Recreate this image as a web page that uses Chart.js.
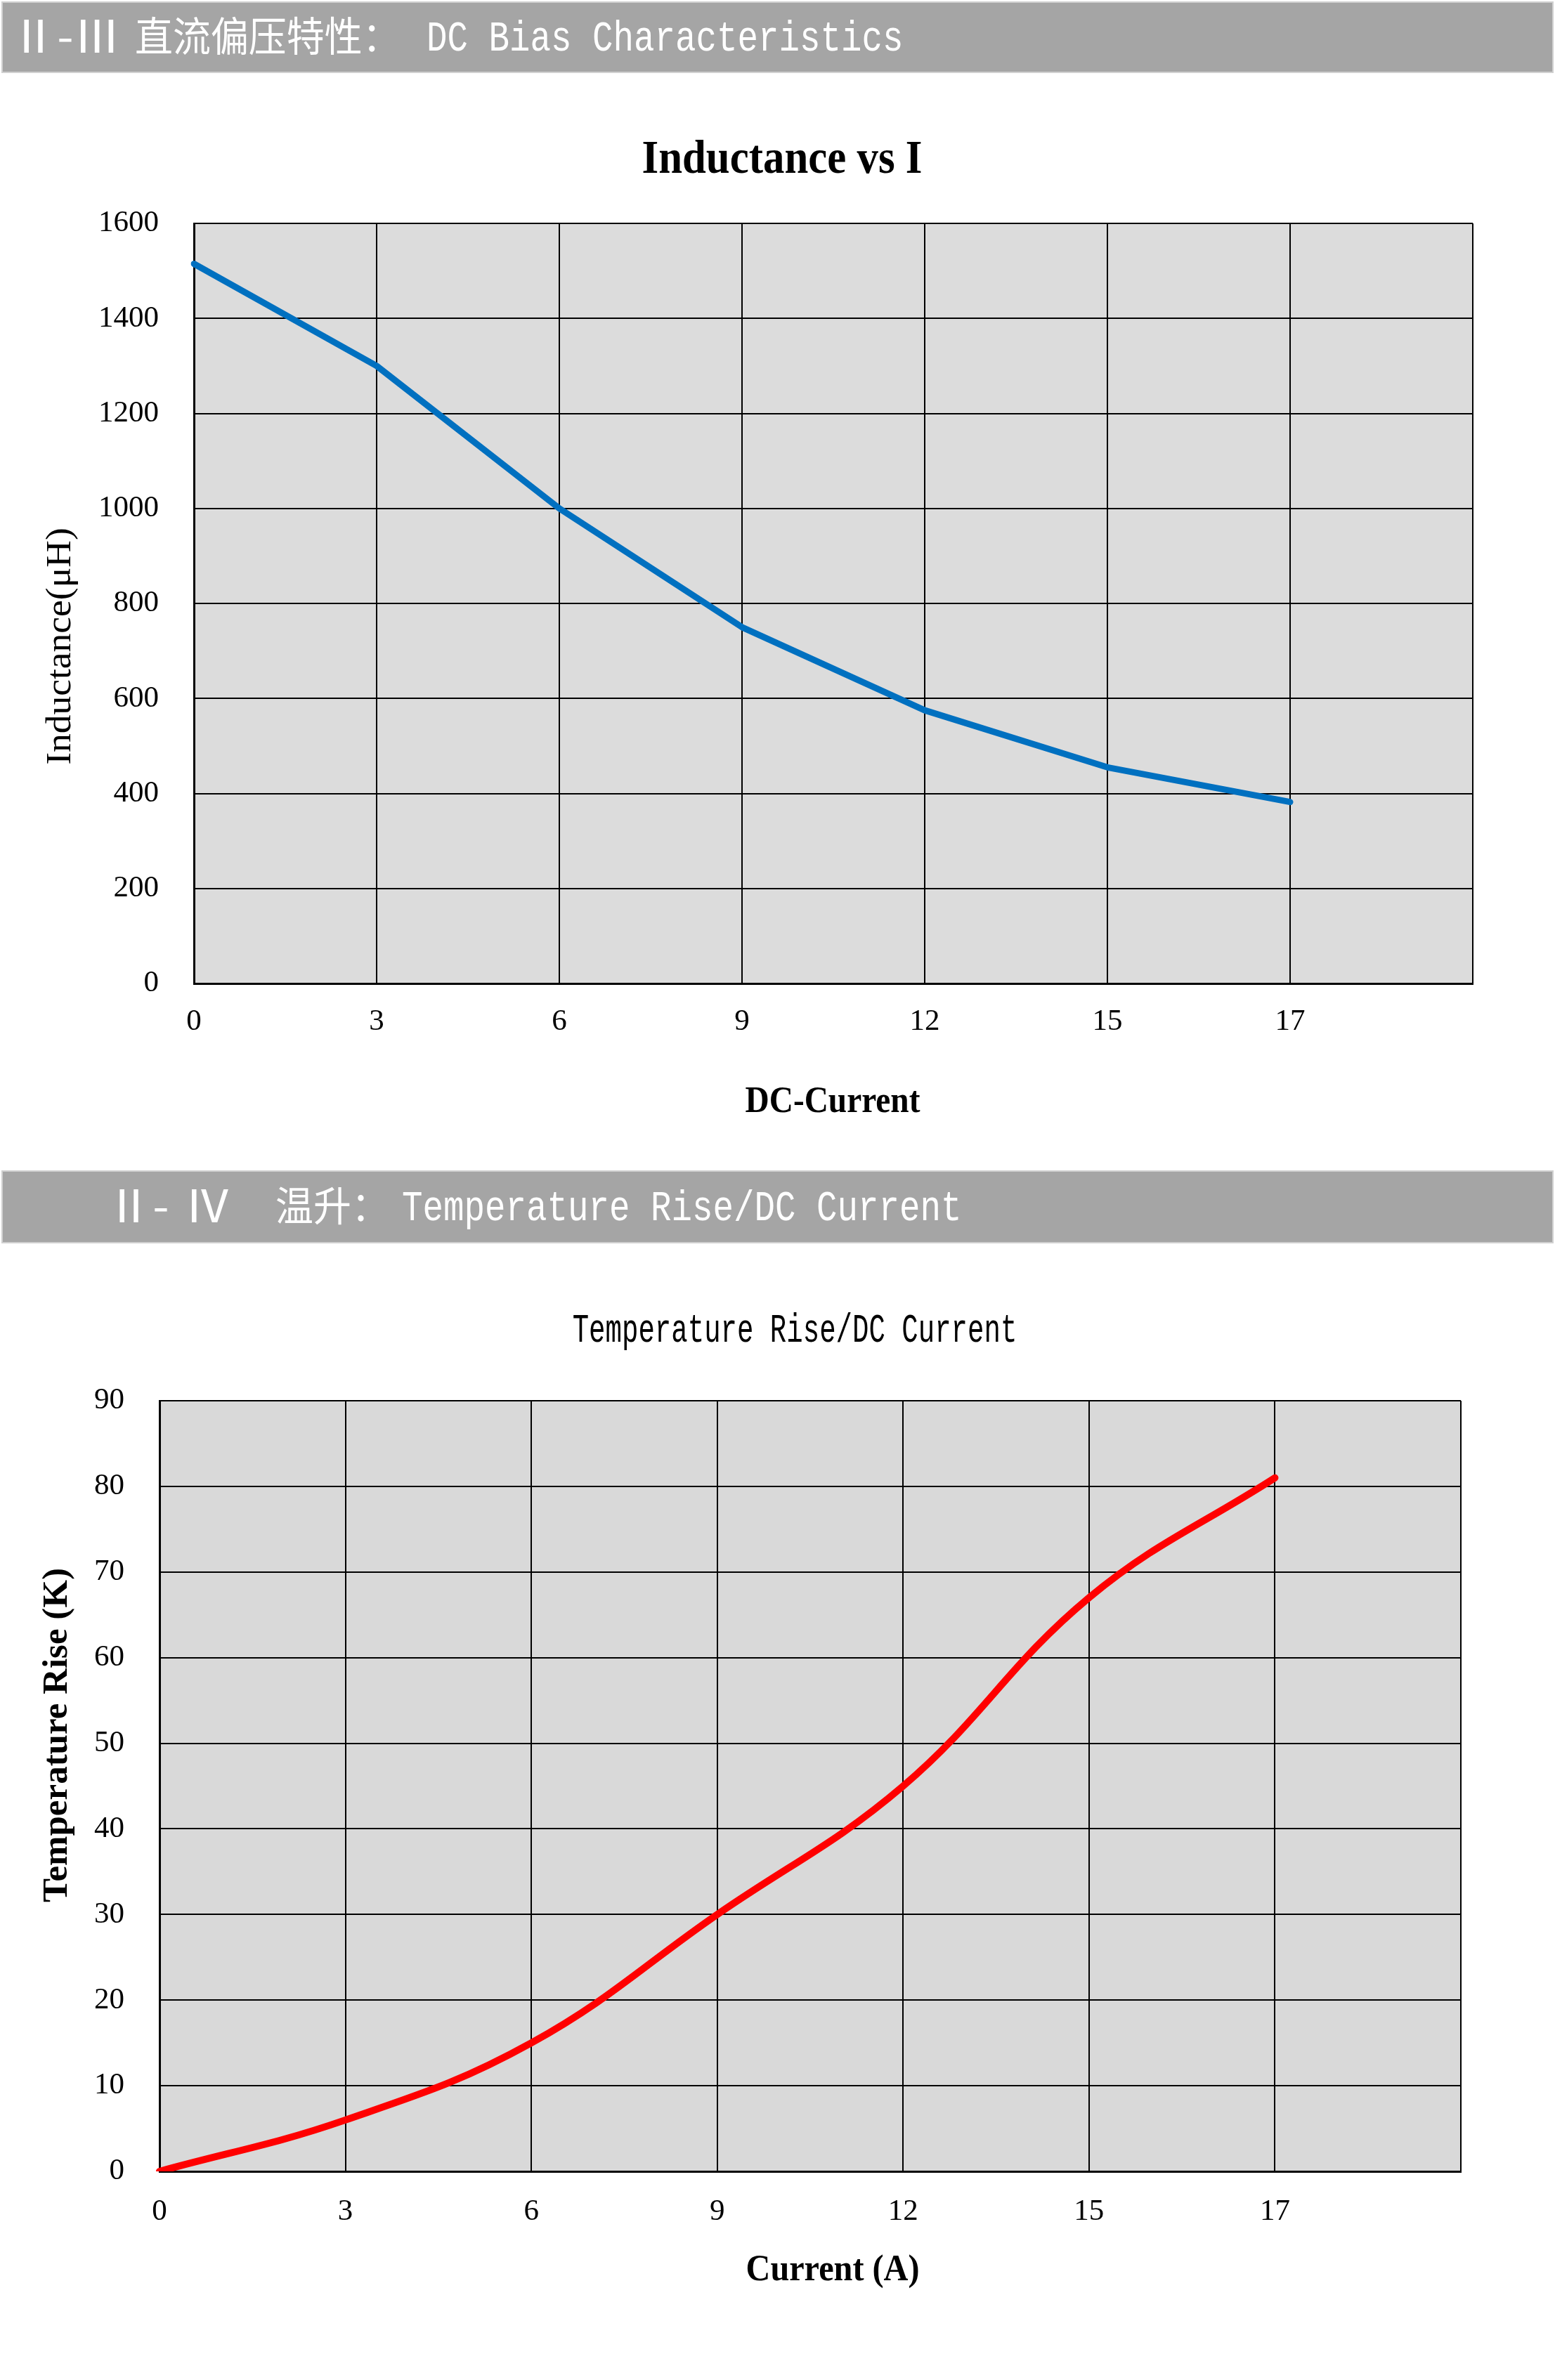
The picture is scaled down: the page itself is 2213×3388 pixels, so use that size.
<!DOCTYPE html>
<html><head><meta charset="utf-8">
<script src="https://cdn.jsdelivr.net/npm/chart.js@4.4.1/dist/chart.umd.min.js"></script>
<style>
html,body{margin:0;padding:0;background:#fff;}
body{width:2213px;height:3388px;position:relative;overflow:hidden;}
.bar{position:absolute;left:4px;width:2205px;background:#a5a5a5;box-shadow:0 0 0 2px #d0d0d0;}
.t{position:absolute;white-space:pre;color:#fff;line-height:1;transform-origin:0 0;}
.cjk{font-family:"Noto Sans CJK SC";font-size:58px;}
.rom{font-family:"Noto Sans CJK SC";font-size:64px;}
.lat{font-family:"Liberation Mono";font-size:61px;transform:scaleX(0.806);}
.wrap{position:absolute;left:0;}
canvas{display:block;}
</style></head>
<body>
<div class="bar" style="top:4px;height:98px;"></div>
<div class="t rom" style="left:14px;top:15px;transform:scaleX(1.05);">Ⅱ-Ⅲ</div>
<div class="t cjk" style="left:192px;top:19px;transform:scaleX(0.93);">直流偏压特性：</div>
<div class="t lat" style="left:607px;top:25px;">DC Bias Characteristics</div>

<div class="bar" style="top:1668px;height:100px;"></div>
<div class="t rom" style="left:150px;top:1680px;transform:scaleX(1.05);">Ⅱ-</div>
<div class="t rom" style="left:262px;top:1680px;transform:scaleX(1.05);">Ⅳ</div>
<div class="t cjk" style="left:392px;top:1684px;transform:scaleX(0.93);">温升：</div>
<div class="t lat" style="left:572px;top:1690px;">Temperature Rise/DC Current</div>

<div class="wrap" style="top:0;"><canvas id="c1" width="2213" height="1660"></canvas></div>
<div class="wrap" style="top:1780px;"><canvas id="c2" width="2213" height="1608"></canvas></div>

<script>
// ---- data ----
const xTickLabels = ['0', '3', '6', '9', '12', '15', '17'];
const inductanceValues = [1515, 1300, 1000, 750, 575, 455, 382];
const inductanceTicks = [0, 200, 400, 600, 800, 1000, 1200, 1400, 1600];
const tempRiseValues = [0, 6, 15, 30, 45, 67, 81];
const tempRiseTicks = [0, 10, 20, 30, 40, 50, 60, 70, 80, 90];

// ---- plugins ----
const plotBg = {
  id: 'plotBg',
  beforeDraw(chart, args, opts) {
    const { ctx, chartArea: a } = chart;
    ctx.save();
    ctx.fillStyle = opts.color || '#dcdcdc';
    ctx.fillRect(a.left, a.top, a.right - a.left, a.bottom - a.top);
    ctx.restore();
  }
};
function makeText(items) {
  return {
    id: 'textItems',
    afterDraw(chart) {
      const ctx = chart.ctx;
      for (const it of items) {
        ctx.save();
        ctx.translate(it.x, it.y);
        if (it.rotate) ctx.rotate(it.rotate);
        ctx.scale(it.sx || 1, 1);
        ctx.font = it.font;
        ctx.fillStyle = it.color || '#000';
        ctx.textAlign = 'center';
        ctx.textBaseline = 'alphabetic';
        ctx.fillText(it.text, 0, 0);
        ctx.restore();
      }
    }
  };
}

const tickFont = { family: 'Liberation Serif', size: 43 };

function axes(yTicks, yWidth, xHeight, xPad) {
  return {
    x: {
      type: 'category', offset: false,
      grid: { color: '#000', lineWidth: 2, drawTicks: false },
      border: { color: '#000', width: 3 },
      ticks: { color: '#000', font: tickFont, padding: xPad, maxRotation: 0, autoSkip: false },
      afterFit(s) { s.height = xHeight; }
    },
    y: {
      min: yTicks[0], max: yTicks[yTicks.length - 1],
      afterBuildTicks(s) { s.ticks = yTicks.map(v => ({ value: v })); },
      grid: { color: '#000', lineWidth: 2, drawTicks: false },
      border: { color: '#000', width: 3 },
      ticks: { color: '#000', font: tickFont, padding: 50, callback: v => String(v) },
      afterFit(s) { s.width = yWidth; }
    }
  };
}

new Chart(document.getElementById('c1'), {
  type: 'line',
  data: {
    labels: [...xTickLabels, ''],
    datasets: [{
      data: inductanceValues, borderColor: '#0070c0', borderWidth: 9,
      pointRadius: 0, tension: 0, fill: false,
      borderCapStyle: 'round', borderJoinStyle: 'round'
    }]
  },
  options: {
    responsive: false, animation: false, events: [],
    layout: { padding: { left: 0, top: 318, right: 117, bottom: 0 } },
    plugins: { legend: { display: false }, tooltip: { enabled: false }, plotBg: { color: '#dcdcdc' } },
    scales: axes(inductanceTicks, 276, 260, 29)
  },
  plugins: [plotBg, makeText([
    { text: 'Inductance vs I', x: 1113, y: 246, font: 'bold 68px "Liberation Serif"', sx: 0.895 },
    { text: 'DC-Current', x: 1185, y: 1583, font: 'bold 52px "Liberation Serif"', sx: 0.91 },
    { text: 'Inductance(μH)', x: 100, y: 920, font: '50px "Liberation Serif"', sx: 1.07, rotate: -Math.PI / 2 }
  ])]
});

new Chart(document.getElementById('c2'), {
  type: 'line',
  data: {
    labels: [...xTickLabels, ''],
    datasets: [{
      data: tempRiseValues, borderColor: '#ff0000', borderWidth: 10,
      pointRadius: 0, tension: 0.4, cubicInterpolationMode: 'default', fill: false,
      borderCapStyle: 'round', borderJoinStyle: 'round'
    }]
  },
  options: {
    responsive: false, animation: false, events: [],
    layout: { padding: { left: 0, top: 214, right: 134, bottom: 0 } },
    plugins: { legend: { display: false }, tooltip: { enabled: false }, plotBg: { color: '#d9d9d9' } },
    scales: axes(tempRiseTicks, 227, 297, 32)
  },
  plugins: [plotBg, makeText([
    { text: 'Temperature Rise/DC Current', x: 1131, y: 130, font: '57px "Liberation Mono"', sx: 0.685 },
    { text: 'Temperature Rise (K)', x: 95, y: 690, font: 'bold 50px "Liberation Serif"', sx: 1.02, rotate: -Math.PI / 2 },
    { text: 'Current (A)', x: 1185, y: 1466, font: 'bold 53px "Liberation Serif"', sx: 0.91 }
  ])]
});
</script>
</body></html>
